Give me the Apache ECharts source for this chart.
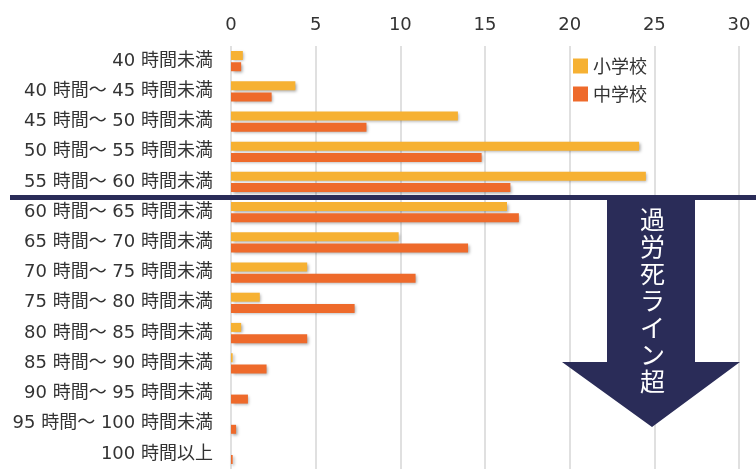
<!DOCTYPE html>
<html><head><meta charset="utf-8">
<script src="https://cdn.jsdelivr.net/npm/echarts@6/dist/echarts.min.js"></script>
<style>html,body{margin:0;padding:0;background:#fff}#c{width:756px;height:469px}</style>
</head><body><div id="c"></div>
<script>
const categories = ['40 時間未満','40 時間～ 45 時間未満','45 時間～ 50 時間未満','50 時間～ 55 時間未満','55 時間～ 60 時間未満','60 時間～ 65 時間未満','65 時間～ 70 時間未満','70 時間～ 75 時間未満','75 時間～ 80 時間未満','80 時間～ 85 時間未満','85 時間～ 90 時間未満','90 時間～ 95 時間未満','95 時間～ 100 時間未満','100 時間以上'];
const elementary = [0.7, 3.8, 13.4, 24.1, 24.5, 16.3, 9.9, 4.5, 1.7, 0.6, 0.1, 0, 0, 0];
const juniorHigh = [0.6, 2.4, 8.0, 14.8, 16.5, 17.0, 14.0, 10.9, 7.3, 4.5, 2.1, 1.0, 0.3, 0.1];
const xTicks = [0, 5, 10, 15, 20, 25, 30];
const seriesNames = ['小学校', '中学校'];
const annotationText = '過労死ライン超';

const FONT = '"DejaVu Sans", "Noto Sans CJK JP", sans-serif';
const CJK = '"Noto Sans CJK JP", sans-serif';
const chart = echarts.init(document.getElementById('c'), null, {renderer: 'canvas'});
const shadow = {shadowBlur: 3, shadowColor: 'rgba(0,0,0,0.35)', shadowOffsetX: 1.5, shadowOffsetY: 1.5};
chart.setOption({
  animation: false,
  textStyle: {fontFamily: FONT},
  grid: {left: 231, right: 17, top: 46, bottom: -6, containLabel: false},
  legend: {
    orient: 'vertical', left: 568, top: 52, itemWidth: 15, itemHeight: 15, itemGap: 10,
    icon: 'rect', textStyle: {fontSize: 18, color: '#333', fontFamily: CJK},
    data: seriesNames
  },
  xAxis: {
    type: 'value', position: 'top', min: xTicks[0], max: xTicks[xTicks.length-1], interval: 5,
    axisLine: {show: false}, axisTick: {show: false},
    axisLabel: {fontSize: 18, color: '#333', margin: 12, fontFamily: FONT},
    splitLine: {lineStyle: {color: '#e0e0e0', width: 2}}
  },
  yAxis: {
    type: 'category', inverse: true, data: categories,
    axisLine: {show: false}, axisTick: {show: false},
    axisLabel: {fontSize: 18, color: '#333', margin: 18, fontFamily: FONT}
  },
  series: [
    {name: seriesNames[0], type: 'bar', data: elementary, barWidth: 9, barGap: '25%',
     itemStyle: Object.assign({color: '#F6B133'}, shadow)},
    {name: seriesNames[1], type: 'bar', data: juniorHigh, barWidth: 9, barGap: '25%',
     itemStyle: Object.assign({color: '#EE6A2B'}, shadow)}
  ],
  graphic: [
    {type: 'rect', z: 100, shape: {x: 10, y: 195, width: 746, height: 5}, style: {fill: '#2A2C58'}},
    {type: 'polygon', z: 100, shape: {points: [[607,197],[695,197],[695,362],[740,362],[652,427],[562,362],[607,362]]},
     style: {fill: '#2A2C58'}},
    {type: 'text', z: 101, left: 640, top: 206,
     style: {text: annotationText.split('').join('\n'), fill: '#fff', fontSize: 25, lineHeight: 27, fontFamily: CJK, align: 'center'}}
  ]
});
</script></body></html>
